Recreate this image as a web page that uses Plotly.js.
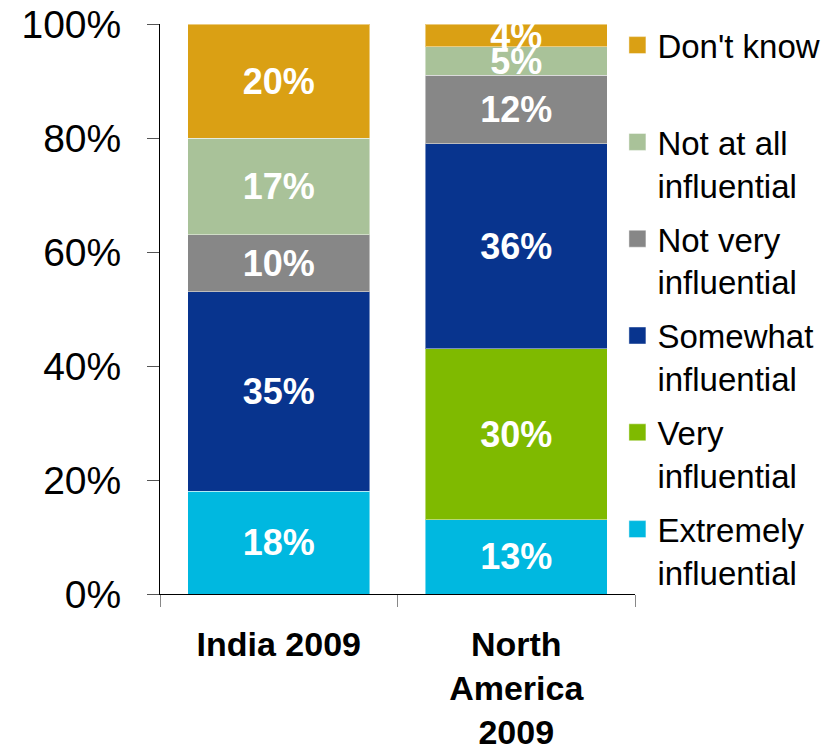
<!DOCTYPE html>
<html>
<head>
<meta charset="utf-8">
<script src="https://cdn.plot.ly/plotly-3.0.1.min.js"></script>
<style>html,body{margin:0;padding:0;background:#fff;}#chart{width:839px;height:750px;}</style>
</head>
<body>
<div id="chart"></div>
<script>
const categories = ['India 2009', 'North<br>America<br>2009'];
const seriesNames = ['Extremely<br>influential', 'Very<br>influential', 'Somewhat<br>influential', 'Not very<br>influential', 'Not at all<br>influential', "Don't know<br> "];
const extremely = [18, 13];
const very = [null, 30];
const somewhat = [35, 36];
const notVery = [10, 12];
const notAtAll = [17, 5];
const dontKnow = [20, 4];
const colors = ['#00B8E0', '#7FBA00', '#08348E', '#878787', '#A9C299', '#DAA014'];

const seriesValues = [extremely, very, somewhat, notVery, notAtAll, dontKnow];
const font = 'Arial, "Liberation Sans", sans-serif';

const traces = seriesValues.map((vals, i) => ({
  type: 'bar',
  name: seriesNames[i],
  legendgroup: 'g' + i,
  legendrank: 100 - i,
  x: categories,
  y: vals,
  text: vals.map(v => v == null ? '' : v + '%'),
  textposition: 'inside',
  insidetextanchor: 'middle',
  textangle: 0,
  textfont: {family: font, size: 36, color: '#ffffff', weight: 'bold'},
  marker: {color: colors[i], line: {color: 'rgba(255,255,255,0.45)', width: 1}},
  hoverinfo: 'skip'
}));

const layout = {
  width: 839, height: 750,
  margin: {l: 160, r: 204, t: 24, b: 156},
  paper_bgcolor: '#fff', plot_bgcolor: '#fff',
  barmode: 'stack',
  bargap: 0.234,
  showlegend: true,
  uniformtext: {mode: 'show', minsize: 36},
  legend: {
    x: 0.963, xanchor: 'left', y: 1.012, yanchor: 'top',
    traceorder: 'grouped',
    tracegroupgap: 8,
    valign: 'top',
    maxheight: 750,
    font: {family: font, size: 33, color: '#000'},
    bgcolor: 'rgba(0,0,0,0)'
  },
  xaxis: {
    showline: true, linecolor: '#000', linewidth: 1,
    ticks: 'outside', tickson: 'boundaries', ticklen: 12, tickcolor: '#888',
    tickfont: {family: font, size: 34, color: '#000', weight: 'bold'},
    ticklabelstandoff: 20,
    fixedrange: true
  },
  yaxis: {
    range: [0, 100], dtick: 20, ticksuffix: '%',
    showline: true, linecolor: '#000', linewidth: 1,
    ticks: 'outside', ticklen: 12, tickcolor: '#555',
    showgrid: false, zeroline: false,
    tickfont: {family: font, size: 39, color: '#000'},
    ticklabelstandoff: 18,
    fixedrange: true
  }
};

Plotly.newPlot('chart', traces, layout, {displayModeBar: false, staticPlot: true}).then(gd => {
  // enlarge the legend swatches to match the reference's square markers
  gd.querySelectorAll('.legend .legendpoints path').forEach(p => {
    p.setAttribute('d', 'M8.5,8.5H-8.5V-8.5H8.5Z');
  });
});
</script>
</body>
</html>
